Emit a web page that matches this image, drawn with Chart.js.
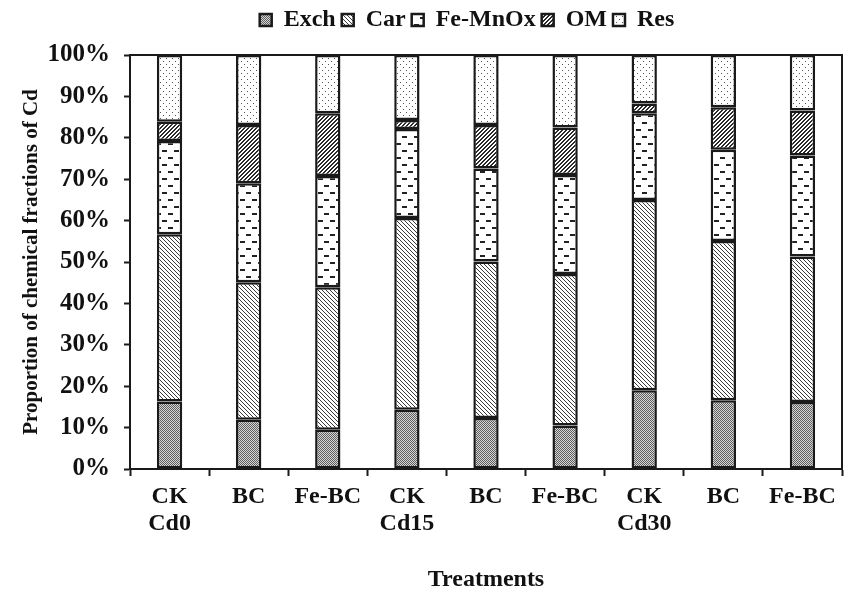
<!DOCTYPE html>
<html>
<head>
<meta charset="utf-8">
<script src="https://cdn.jsdelivr.net/npm/chart.js@4/dist/chart.umd.min.js"></script>
<style>
  html, body { margin: 0; padding: 0; background: #fff; }
  #chart { display: block; }
</style>
</head>
<body>
<canvas id="chart" width="845" height="594"></canvas>
<script>
// Cd fraction shares (%) per treatment
const categories = [['CK', 'Cd0'], 'BC', 'Fe-BC', ['CK', 'Cd15'], 'BC', 'Fe-BC', ['CK', 'Cd30'], 'BC', 'Fe-BC'];
const exch = [16.3, 11.9, 9.5, 14.3, 12.3, 10.5, 19.0, 16.6, 16.2];
const car = [40.4, 33.2, 34.4, 46.3, 37.8, 36.6, 46.0, 38.5, 35.1];
const feMnOx = [22.5, 23.9, 26.9, 21.5, 22.5, 23.9, 20.9, 22.0, 24.4];
const om = [4.7, 14.1, 15.1, 2.2, 10.5, 11.5, 2.4, 10.3, 10.9];
const res = [16.1, 16.9, 14.1, 15.7, 16.9, 17.5, 11.7, 12.6, 13.4];
const seriesNames = ['Exch', 'Car', 'Fe-MnOx', 'OM', 'Res'];

const FONT = 'Liberation Serif';

// small tiled fills to mimic the b/w hatching of the original
function makePattern(w, h, paint) {
    const c = document.createElement('canvas');
    c.width = w; c.height = h;
    const g = c.getContext('2d');
    g.fillStyle = '#fff';
    g.fillRect(0, 0, w, h);
    paint(g);
    return g.createPattern(c, 'repeat');
}

const ctx = document.getElementById('chart').getContext('2d');

const patterns = [
    // Exch: fine checker, mid grey
    makePattern(2, 2, (g) => {
        g.fillStyle = '#d6d6d6'; g.fillRect(0, 0, 2, 2);
        g.fillStyle = '#5e5e5e'; g.fillRect(0, 0, 1, 1); g.fillRect(1, 1, 1, 1);
    }),
    // Car: thin back-slash lines
    makePattern(4, 4, (g) => {
        g.fillStyle = '#3a3a3a';
        for (let i = 0; i < 4; i++) g.fillRect(i, i, 1, 1);
    }),
    // Fe-MnOx: staggered short dashes
    makePattern(12, 14, (g) => {
        g.fillStyle = '#222';
        g.fillRect(0, 3, 5, 2);
        g.fillRect(6, 10, 5, 2);
    }),
    // OM: heavy forward-slash lines
    makePattern(4, 4, (g) => {
        g.fillStyle = '#2a2a2a';
        for (let i = 0; i < 4; i++) {
            g.fillRect((3 - i + 4) % 4, i, 1, 1);
            g.fillRect((4 - i + 4) % 4, i, 1, 1);
        }
    }),
    // Res: sparse dots
    makePattern(6, 6, (g) => {
        g.fillStyle = '#555';
        g.fillRect(1, 1, 1, 1);
        g.fillRect(4, 4, 1, 1);
    }),
];

const seriesData = [exch, car, feMnOx, om, res];

const datasets = seriesNames.map((name, i) => ({
    label: name,
    data: seriesData[i],
    backgroundColor: patterns[i],
    borderColor: '#1a1a1a',
    borderWidth: 2.5,
    borderSkipped: false,
    barPercentage: 0.32,
    categoryPercentage: 1,
}));

// top + right frame lines, and nudge legend over the plot
const framePlugin = {
    id: 'frame',
    afterLayout(chart) {
        const lg = chart.legend;
        if (lg) { lg.left += 46; lg.right += 46; }
    },
    afterDraw(chart) {
        const { ctx, chartArea: a } = chart;
        ctx.save();
        ctx.strokeStyle = '#1a1a1a';
        ctx.lineWidth = 2;
        ctx.beginPath();
        ctx.moveTo(a.left, a.top);
        ctx.lineTo(a.right, a.top);
        ctx.lineTo(a.right, a.bottom);
        ctx.stroke();
        ctx.restore();
    },
};

new Chart(ctx, {
    type: 'bar',
    data: { labels: categories, datasets },
    options: {
        responsive: false,
        animation: false,
        layout: { padding: { left: 0, right: 3, top: 2, bottom: 0 } },
        plugins: {
            legend: {
                position: 'top',
                labels: {
                    color: '#111',
                    boxWidth: 12,
                    boxHeight: 12,
                    padding: 6,
                    font: { family: FONT, size: 24, weight: 'bold' },
                },
            },
            // spacer between legend and plot
            title: {
                display: true,
                text: '',
                weight: 500,
                font: { size: 5, lineHeight: 1 },
                padding: { top: 4, bottom: 4 },
            },
            tooltip: { enabled: false },
        },
        scales: {
            x: {
                stacked: true,
                afterFit(scale) { scale.height = 125; },
                border: { color: '#1a1a1a', width: 2 },
                grid: {
                    drawOnChartArea: false,
                    tickLength: 7,
                    tickColor: '#1a1a1a',
                    tickWidth: 2,
                },
                ticks: {
                    color: '#111',
                    padding: 8,
                    maxRotation: 0,
                    autoSkip: false,
                    font: { family: FONT, size: 24, weight: 'bold', lineHeight: 1.1 },
                },
                title: {
                    display: true,
                    text: 'Treatments',
                    color: '#111',
                    padding: { top: 0, bottom: 1 },
                    font: { family: FONT, size: 24, weight: 'bold', lineHeight: 1.1 },
                },
            },
            y: {
                stacked: true,
                min: 0,
                max: 100,
                afterFit(scale) { scale.width = 130; },
                border: { color: '#1a1a1a', width: 2 },
                grid: {
                    drawOnChartArea: false,
                    tickLength: 6,
                    tickColor: '#1a1a1a',
                    tickWidth: 2,
                },
                ticks: {
                    stepSize: 10,
                    color: '#111',
                    padding: 14,
                    font: { family: FONT, size: 25, weight: 'bold' },
                    callback: (v) => v + '%',
                },
                title: {
                    display: true,
                    text: 'Proportion of chemical fractions of Cd',
                    color: '#111',
                    padding: { top: 19, bottom: 0 },
                    font: { family: FONT, size: 21, weight: 'bold', lineHeight: 1.2 },
                },
            },
        },
    },
    plugins: [framePlugin],
});
</script>
</body>
</html>
